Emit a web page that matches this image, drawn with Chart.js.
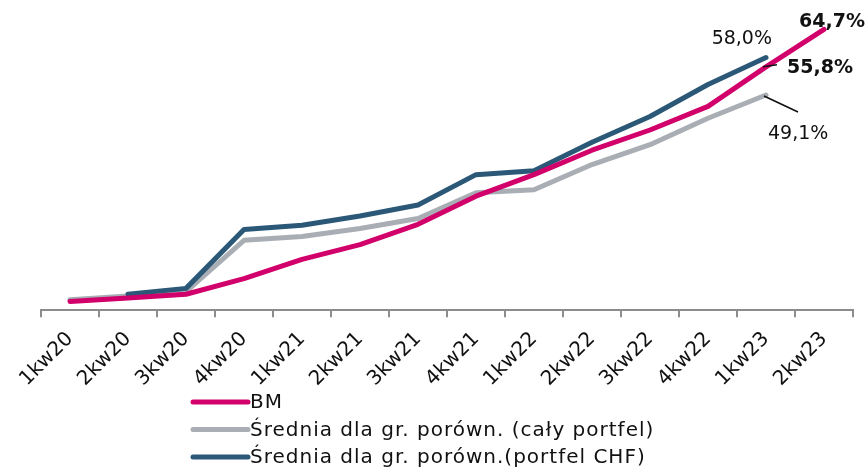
<!DOCTYPE html>
<html>
<head>
<meta charset="utf-8">
<script src="https://cdn.jsdelivr.net/npm/chart.js@4/dist/chart.umd.min.js"></script>
<style>
  html, body { margin: 0; padding: 0; background: #fff; }
  #wrap { width: 867px; height: 469px; position: relative; }
</style>
</head>
<body>
<div id="wrap"><canvas id="chart"></canvas></div>
<script>
const quarters = ["1kw20", "2kw20", "3kw20", "4kw20", "1kw21", "2kw21", "3kw21", "4kw21",
  "1kw22", "2kw22", "3kw22", "4kw22", "1kw23", "2kw23"];
const bm = [0.1, 0.9, 1.8, 5.5, 10.1, 13.6, 18.4, 25.1, 30.2, 36.0, 40.8, 46.4, 55.8, 64.7];
const avgAll = [0.5, 1.4, 2.4, 14.6, 15.5, 17.4, 19.8, 25.9, 26.6, 32.6, 37.3, 43.6, 49.1, null];
const avgChf = [null, 1.8, 3.2, 17.2, 18.2, 20.4, 23.0, 30.2, 31.1, 37.9, 44.0, 51.6, 58.0, null];

const FONT = "'DejaVu Sans', sans-serif";

// value labels: [dataset, index, text, bold]
const valueLabels = [
  [0, 13, "64,7%", true],
  [0, 12, "55,8%", true],
  [2, 12, "58,0%", false],
  [1, 12, "49,1%", false],
];

const labelPlugin = {
  id: "valueLabels",
  afterDatasetsDraw(chart) {
    const ctx = chart.ctx;
    ctx.save();
    ctx.fillStyle = "#111";
    ctx.strokeStyle = "#111";
    ctx.lineWidth = 1.5;
    ctx.textBaseline = "alphabetic";
    for (const [ds, i, text, bold] of valueLabels) {
      const pt = chart.getDatasetMeta(ds).data[i];
      const x = pt.x, y = pt.y;
      ctx.font = (bold ? "bold " : "") + "19px " + FONT;
      if (ds === 0 && i === 13) {
        ctx.textAlign = "left";
        ctx.fillText(text, x - 25, y - 2);
      } else if (ds === 0) {
        ctx.beginPath();
        ctx.moveTo(x - 3, y);
        ctx.lineTo(x + 11, y - 2);
        ctx.stroke();
        ctx.textAlign = "left";
        ctx.fillText(text, x + 21, y + 6);
      } else if (ds === 2) {
        ctx.textAlign = "right";
        ctx.fillText(text, x + 6, y - 14);
      } else {
        ctx.beginPath();
        ctx.moveTo(x - 2, y + 1);
        ctx.lineTo(x + 32, y + 17);
        ctx.stroke();
        ctx.textAlign = "left";
        ctx.fillText(text, x + 2, y + 44);
      }
    }
    ctx.restore();
  }
};

// legend drawn as a left-aligned column under the axis
const legendPlugin = {
  id: "columnLegend",
  afterDraw(chart) {
    const ctx = chart.ctx;
    const x0 = 193, y0 = 402, rowH = 27.5;
    ctx.save();
    chart.data.datasets.forEach((ds, k) => {
      const y = y0 + k * rowH;
      ctx.strokeStyle = ds.borderColor;
      ctx.lineWidth = 5;
      ctx.lineCap = "round";
      ctx.beginPath();
      ctx.moveTo(x0, y);
      ctx.lineTo(x0 + 55, y);
      ctx.stroke();
      ctx.fillStyle = "#111";
      ctx.font = "20px " + FONT;
      ctx.letterSpacing = "1px";
      ctx.textAlign = "left";
      ctx.textBaseline = "middle";
      ctx.fillText(ds.label, x0 + 57, y + 1);
    });
    ctx.restore();
  }
};

new Chart(document.getElementById("chart"), {
  type: "line",
  data: {
    labels: quarters,
    datasets: [
      { label: "BM", data: bm, borderColor: "#d2006a", order: 0 },
      { label: "Średnia dla gr. porówn. (cały portfel)", data: avgAll, borderColor: "#a8aeb4", order: 2 },
      { label: "Średnia dla gr. porówn.(portfel CHF)", data: avgChf, borderColor: "#2c5878", order: 1 },
    ],
  },
  options: {
    responsive: true,
    maintainAspectRatio: false,
    animation: false,
    layout: { padding: { left: 41, right: 14, top: 7, bottom: 68 } },
    elements: {
      line: { borderWidth: 5, tension: 0, borderCapStyle: "round", borderJoinStyle: "round", fill: false },
      point: { radius: 0, hoverRadius: 0 },
    },
    plugins: {
      legend: { display: false },
      tooltip: { enabled: false },
    },
    scales: {
      x: {
        offset: true,
        border: { display: true, color: "#8c8c8c", width: 2 },
        grid: { offset: true, drawOnChartArea: false, drawTicks: true, tickLength: 7, color: "#8c8c8c", lineWidth: 2 },
        ticks: {
          color: "#111",
          font: { family: FONT, size: 20 },
          maxRotation: 45,
          minRotation: 45,
          autoSkip: false,
          padding: 10,
        },
      },
      y: { display: false, min: -2, max: 70 },
    },
  },
  plugins: [labelPlugin, legendPlugin],
});
</script>
</body>
</html>
